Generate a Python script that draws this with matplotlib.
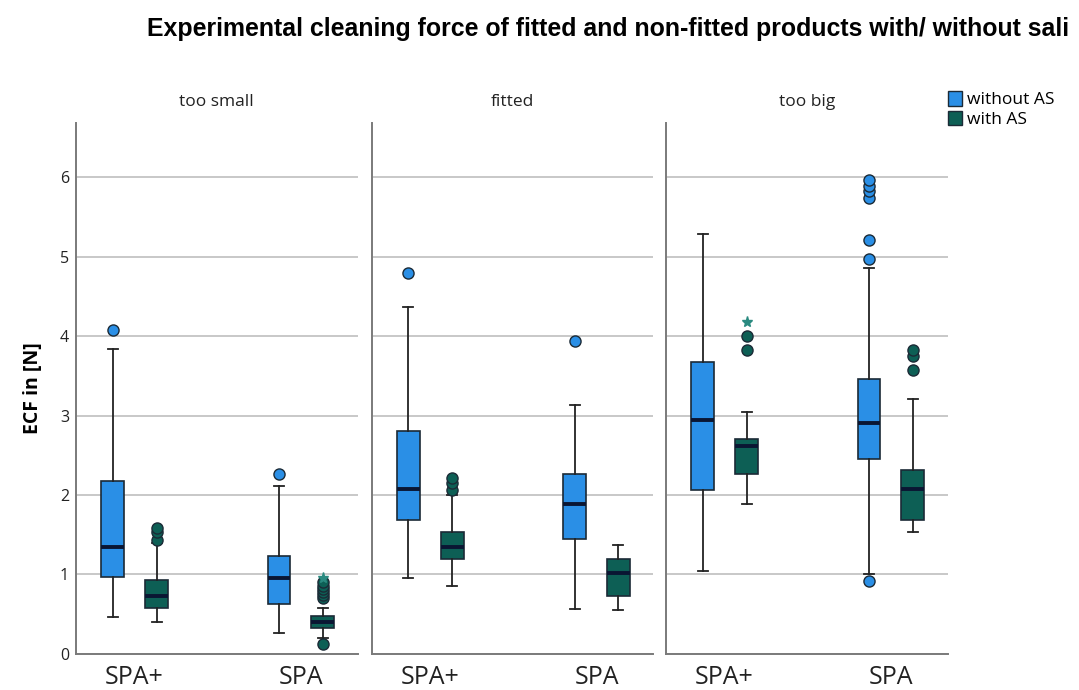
import matplotlib
matplotlib.use("Agg")
import matplotlib.pyplot as plt
from matplotlib import font_manager
from matplotlib.patches import Patch

plt.rcParams['font.family'] = ['Open Sans', 'DejaVu Sans']

panels = ["too small", "fitted", "too big"]
products = ["SPA+", "SPA"]
series = ["without AS", "with AS"]

# box stats per panel, [SPA+, SPA]
without_med = [[1.35, 0.96], [2.08, 1.89], [2.94, 2.91]]
without_q1 = [[0.97, 0.63], [1.68, 1.45], [2.06, 2.45]]
without_q3 = [[2.18, 1.23], [2.81, 2.26], [3.67, 3.46]]
without_lo = [[0.46, 0.27], [0.96, 0.57], [1.04, 1.00]]
without_hi = [[3.84, 2.11], [4.36, 3.13], [5.29, 4.85]]
without_out = [[[4.08], [2.26]],
               [[4.79], [3.94]],
               [[], [0.92, 4.97, 5.21, 5.74, 5.82, 5.89, 5.96]]]
without_ext = [[[], []], [[], []], [[], []]]

with_med = [[0.73, 0.40], [1.34, 1.02], [2.62, 2.08]]
with_q1 = [[0.58, 0.33], [1.19, 0.73], [2.26, 1.69]]
with_q3 = [[0.93, 0.48], [1.53, 1.19], [2.70, 2.32]]
with_lo = [[0.40, 0.20], [0.85, 0.55], [1.89, 1.53]]
with_hi = [[1.40, 0.58], [2.00, 1.37], [3.04, 3.21]]
with_out = [[[1.44, 1.53, 1.59], [0.13, 0.70, 0.74, 0.78, 0.82, 0.86, 0.90]],
            [[2.06, 2.15, 2.21], []],
            [[3.83, 4.00], [3.57, 3.75, 3.82]]]
with_ext = [[[], [0.96]], [[], []], [[4.18], []]]

colors = ["#2a8fe6", "#0d5f55"]
edge = "#1b2a36"
star_color = "#2a8a80"

names = {f.name for f in font_manager.fontManager.ttflist}
title_font = "Liberation Sans Narrow" if "Liberation Sans Narrow" in names else "Liberation Sans"

fig = plt.figure(figsize=(10.79, 6.9), dpi=100)
lefts = [0.0704, 0.3445, 0.6172]
width = 0.2610
bottom, height = 0.0522, 0.7695

offset = 0.132
bw = 0.136

for i, name in enumerate(panels):
    ax = fig.add_axes([lefts[i], bottom, width, height])
    groups = [(without_med, without_q1, without_q3, without_lo, without_hi, without_out, without_ext),
              (with_med, with_q1, with_q3, with_lo, with_hi, with_out, with_ext)]
    for s, (med, q1, q3, lo, hi, out, ext) in enumerate(groups):
        stats = []
        pos = []
        for p in range(len(products)):
            stats.append(dict(med=med[i][p], q1=q1[i][p], q3=q3[i][p],
                              whislo=lo[i][p], whishi=hi[i][p], fliers=[]))
            pos.append(p + 1 + (offset if s == 1 else -offset))
        ax.bxp(stats, positions=pos, widths=bw, patch_artist=True,
               showfliers=False, capwidths=0.06,
               boxprops=dict(facecolor=colors[s], edgecolor=edge, linewidth=1.2),
               medianprops=dict(color="#0a1633", linewidth=2.8),
               whiskerprops=dict(color="#222222", linewidth=1.3),
               capprops=dict(color="#222222", linewidth=1.3), zorder=3)
        for p in range(len(products)):
            if out[i][p]:
                ax.plot([pos[p]] * len(out[i][p]), out[i][p], 'o', ms=8,
                        mfc=colors[s], mec=edge, mew=1.0, zorder=4)
            if ext[i][p]:
                ax.plot([pos[p]] * len(ext[i][p]), ext[i][p], '*', ms=8,
                        color=star_color, zorder=4)
    ax.set_xlim(0.647, 2.342)
    ax.set_ylim(0, 6.68)
    ax.set_yticks([0, 1, 2, 3, 4, 5, 6])
    ax.tick_params(length=0, pad=5, labelsize=11.5, colors="#222222")
    ax.tick_params(axis='x', pad=8)
    ax.set_xticks([1, 2])
    ax.set_xticklabels(products, fontsize=18)
    if i > 0:
        ax.tick_params(axis='y', labelleft=False)
    ax.yaxis.grid(True, color="#c8c8c8", linewidth=1.4)
    ax.set_axisbelow(True)
    for sp in ["top", "right"]:
        ax.spines[sp].set_visible(False)
    for sp in ["left", "bottom"]:
        ax.spines[sp].set_color("#7a7a7a")
        ax.spines[sp].set_linewidth(1.4)
    ax.set_title(name, fontsize=12.5, pad=12, color="#222222")
    if i == 0:
        ax.set_ylabel("ECF in [N]", fontsize=14, fontweight="bold", labelpad=12)

fig.text(0.136, 0.958, "Experimental cleaning force of fitted and non-fitted products with/ without sali",
         fontsize=17.9, fontweight="bold", family=title_font, ha="left", va="center")

handles = [Patch(facecolor=colors[k], edgecolor=edge, label=series[k]) for k in range(2)]
fig.legend(handles=handles, loc="upper left", bbox_to_anchor=(0.872, 0.878),
           frameon=False, fontsize=12.5, handlelength=0.8, handleheight=0.9,
           handletextpad=0.3, labelspacing=0.15, borderaxespad=0)

fig.savefig("out.png", dpi=100)
